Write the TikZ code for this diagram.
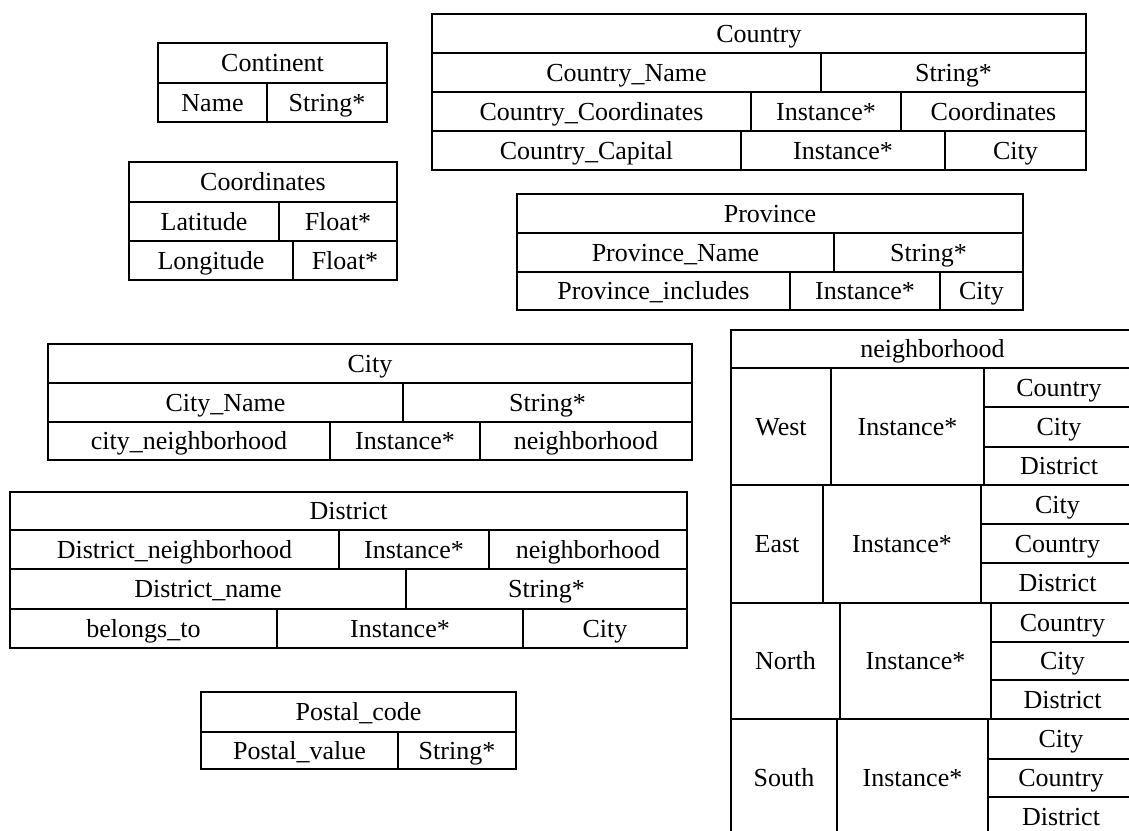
\documentclass[tikz,border=0pt]{standalone}
\usepackage{fontspec}
\setmainfont{Liberation Serif}
\begin{document}
\begin{tikzpicture}[x=1pt,y=-1pt,
  rule/.style={draw=black,line width=1.5pt},
  celltext/.style={inner sep=0pt,text height=17pt,text depth=0pt,
                   font=\fontsize{26}{30}\selectfont}]
\useasboundingbox (0,0) rectangle (1129,830);
\clip (0,0) rectangle (1129,830);
% one framed table cell: name, x1, y1, x2, y2, text
\newcommand\tabcell[6]{%
  \draw[rule] (#2,#3) rectangle (#4,#5);
  \path (#2,#3) -- (#4,#5) node[celltext,midway] (#1) {#6};}

% Continent
\tabcell{contT}{158}{43}{387}{83}{Continent}
\tabcell{contA}{158}{83}{267}{122}{Name}
\tabcell{contB}{267}{83}{387}{122}{String*}

% Coordinates
\tabcell{coorT}{129}{162}{397}{202}{Coordinates}
\tabcell{coorA}{129}{202}{279}{241}{Latitude}
\tabcell{coorB}{279}{202}{397}{241}{Float*}
\tabcell{coorC}{129}{241}{293}{280}{Longitude}
\tabcell{coorD}{293}{241}{397}{280}{Float*}

% Country
\tabcell{ctryT}{432}{14}{1086}{53}{Country}
\tabcell{ctryA}{432}{53}{821}{92}{Country\_Name}
\tabcell{ctryB}{821}{53}{1086}{92}{String*}
\tabcell{ctryC}{432}{92}{751}{131}{Country\_Coordinates}
\tabcell{ctryD}{751}{92}{901}{131}{Instance*}
\tabcell{ctryE}{901}{92}{1086}{131}{Coordinates}
\tabcell{ctryF}{432}{131}{741}{170}{Country\_Capital}
\tabcell{ctryG}{741}{131}{945}{170}{Instance*}
\tabcell{ctryH}{945}{131}{1086}{170}{City}

% Province
\tabcell{provT}{517}{194}{1023}{233}{Province}
\tabcell{provA}{517}{233}{834}{272}{Province\_Name}
\tabcell{provB}{834}{233}{1023}{272}{String*}
\tabcell{provC}{517}{272}{790}{310}{Province\_includes}
\tabcell{provD}{790}{272}{940}{310}{Instance*}
\tabcell{provE}{940}{272}{1023}{310}{City}

% City
\tabcell{cityT}{48}{344}{692}{383}{City}
\tabcell{cityA}{48}{383}{403}{422}{City\_Name}
\tabcell{cityB}{403}{383}{692}{422}{String*}
\tabcell{cityC}{48}{422}{330}{460}{city\_neighborhood}
\tabcell{cityD}{330}{422}{480}{460}{Instance*}
\tabcell{cityE}{480}{422}{692}{460}{neighborhood}

% District
\tabcell{distT}{10}{492}{687}{530}{District}
\tabcell{distA}{10}{530}{339}{569}{District\_neighborhood}
\tabcell{distB}{339}{530}{489}{569}{Instance*}
\tabcell{distC}{489}{530}{687}{569}{neighborhood}
\tabcell{distD}{10}{569}{406}{609}{District\_name}
\tabcell{distE}{406}{569}{687}{609}{String*}
\tabcell{distF}{10}{609}{277}{648}{belongs\_to}
\tabcell{distG}{277}{609}{523}{648}{Instance*}
\tabcell{distH}{523}{609}{687}{648}{City}

% Postal_code
\tabcell{postT}{201}{692}{516}{732}{Postal\_code}
\tabcell{postA}{201}{732}{398}{769}{Postal\_value}
\tabcell{postB}{398}{732}{516}{769}{String*}

% neighborhood (runs past the right and bottom edges)
\tabcell{nbT}{731}{330}{1134}{368}{neighborhood}
% West
\tabcell{nbW}{731}{368}{831}{485}{West}
\tabcell{nbWi}{831}{368}{984}{485}{Instance*}
\tabcell{nbW1}{984}{368}{1134}{407}{Country}
\tabcell{nbW2}{984}{407}{1134}{447}{City}
\tabcell{nbW3}{984}{447}{1134}{485}{District}
% East
\tabcell{nbE}{731}{485}{823}{603}{East}
\tabcell{nbEi}{823}{485}{981}{603}{Instance*}
\tabcell{nbE1}{981}{485}{1134}{524}{City}
\tabcell{nbE2}{981}{524}{1134}{563}{Country}
\tabcell{nbE3}{981}{563}{1134}{603}{District}
% North
\tabcell{nbN}{731}{603}{840}{719}{North}
\tabcell{nbNi}{840}{603}{991}{719}{Instance*}
\tabcell{nbN1}{991}{603}{1134}{642}{Country}
\tabcell{nbN2}{991}{642}{1134}{680}{City}
\tabcell{nbN3}{991}{680}{1134}{719}{District}
% South
\tabcell{nbS}{731}{719}{837}{837}{South}
\tabcell{nbSi}{837}{719}{988}{837}{Instance*}
\tabcell{nbS1}{988}{719}{1134}{759}{City}
\tabcell{nbS2}{988}{759}{1134}{797}{Country}
\tabcell{nbS3}{988}{797}{1134}{837}{District}
\end{tikzpicture}
\end{document}
